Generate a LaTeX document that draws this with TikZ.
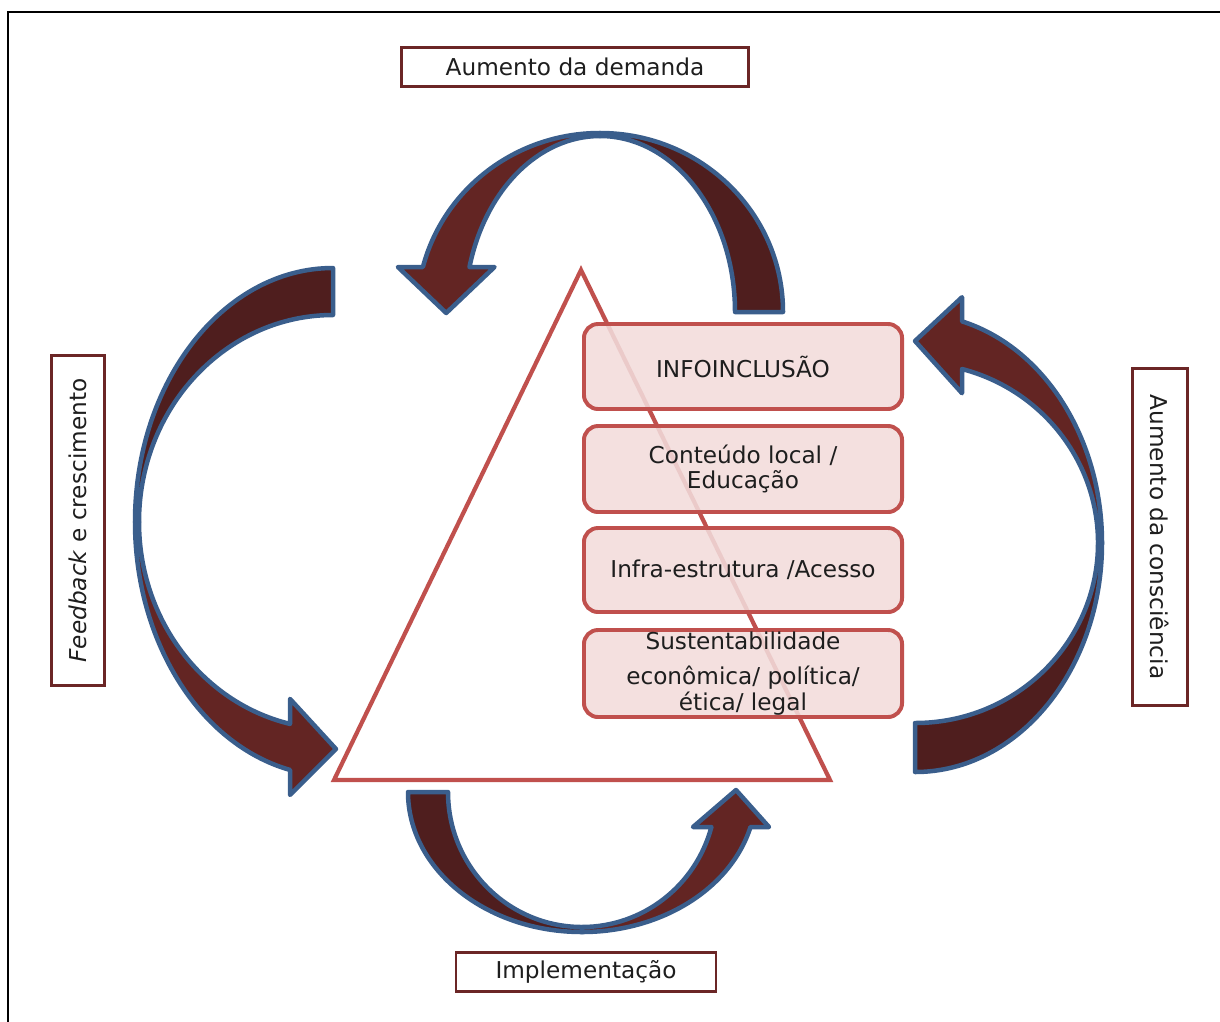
\documentclass[tikz,border=0pt]{standalone}
\usepackage{fontspec}
\setmainfont{DejaVu Sans}
\definecolor{arrowlight}{HTML}{632523}
\definecolor{arrowdark}{HTML}{4F1E1E}
\definecolor{arrowline}{HTML}{3A5E8C}
\definecolor{trired}{HTML}{C0504D}
\definecolor{boxfill}{HTML}{F2DCDB}
\definecolor{labelline}{HTML}{6B2626}
\definecolor{txt}{HTML}{1E1E1E}
\begin{document}
\begin{tikzpicture}[x=0.025cm, y=-0.025cm,
  every node/.style={font=\fontsize{16.5}{18}\selectfont, text=txt},
  arrowpart/.style={draw=arrowline, line width=3.2pt, line join=round},
  lightpart/.style={arrowpart, fill=arrowlight},
  darkpart/.style={arrowpart, fill=arrowdark},
  tri/.style={draw=trired, line width=3pt},
  layerbox/.style={draw=trired, line width=2.8pt, rounded corners=10pt, fill=boxfill, fill opacity=0.88, text opacity=1, minimum width=7.95cm, inner sep=0pt, align=center},
  labelbox/.style={draw=labelline, line width=2pt, fill=white, inner sep=0pt},
  frame/.style={draw=black, line width=1.5pt}
]
\useasboundingbox (0,0) rectangle (1220,1021);
% outer frame (top and left edges)
\draw[frame] (8,1030) -- (8,12) -- (1230,12);

% triangle
\coordinate (apex) at (581,270);
\coordinate (bl) at (334,780);
\coordinate (br) at (830,780);
\draw[tri] (apex) -- (br) -- (bl) -- cycle;

% layer boxes
\node[layerbox, minimum height=2.125cm] (info) at (743,366.5) {INFOINCLUSÃO};
\node[layerbox, minimum height=2.15cm] (cont) at (743,469) {Conteúdo local /\\Educação};
\node[layerbox, minimum height=2.1cm] (infra) at (743,570) {Infra-estrutura /Acesso};
\node[layerbox, minimum height=2.175cm] (sust) at (743,673.5) {Sustentabilidade\\[7pt]econômica/ política/\\ética/ legal};

% top arrow (Aumento da demanda)
\draw[darkpart] (600,133) arc[start angle=-90, end angle=0, x radius=183, y radius=179]
  -- (735,312) arc[start angle=0, end angle=-90, x radius=135, y radius=176] -- cycle;
\draw[lightpart] (422.9,267) arc[start angle=-165.44, end angle=-90, x radius=183, y radius=179]
  -- (600,136) arc[start angle=-90, end angle=-165.19, x radius=135, y radius=176]
  -- (494.5,267) -- (446.2,313) -- (397.9,267) -- cycle;

% left arrow (Feedback e crescimento)
\draw[darkpart] (333,268) arc[start angle=-90, end angle=-180, x radius=198, y radius=254]
  -- (139,522) arc[start angle=-180, end angle=-90, x radius=194, y radius=207] -- cycle;
\draw[lightpart] (135,522) arc[start angle=180, end angle=102.54, x radius=198, y radius=254]
  -- (290,794.9) -- (336,749) -- (290,698.9) -- (290,723.9)
  arc[start angle=102.81, end angle=180, x radius=194, y radius=207] -- cycle;

% right arrow (Aumento da consciencia)
\draw[darkpart] (915,772) arc[start angle=90, end angle=0, x radius=187, y radius=229]
  -- (1098,543) arc[start angle=0, end angle=90, x radius=183, y radius=180] -- cycle;
\draw[lightpart] (1102,543) arc[start angle=0, end angle=-75.44, x radius=187, y radius=229]
  -- (962,297.2) -- (915,341) -- (962,393.2) -- (962,369)
  arc[start angle=-75.12, end angle=0, x radius=183, y radius=180] -- cycle;

% bottom arrow (Implementacao)
\draw[darkpart] (408,792) arc[start angle=180, end angle=90, x radius=174, y radius=140]
  -- (582,927) arc[start angle=90, end angle=180, x radius=134, y radius=135] -- cycle;
\draw[lightpart] (582,932) arc[start angle=90, end angle=14.48, x radius=174, y radius=140]
  -- (769,827) -- (736,790) -- (693,827) -- (711.4,827)
  arc[start angle=15.03, end angle=90, x radius=134, y radius=135] -- cycle;

% labels
\node[labelbox, minimum width=8.675cm, minimum height=0.975cm] (demanda) at (575,67) {Aumento da demanda};
\node[labelbox, minimum width=6.5cm, minimum height=0.975cm] (impl) at (586,972) {Implementação};
\node[labelbox, rotate=90, minimum width=8.25cm, minimum height=1.325cm] (feed) at (78,520.5) {\textit{Feedback} e crescimento};
\node[labelbox, rotate=-90, minimum width=8.425cm, minimum height=1.375cm] (consc) at (1160,537) {Aumento da consciência};
\end{tikzpicture}
\end{document}
